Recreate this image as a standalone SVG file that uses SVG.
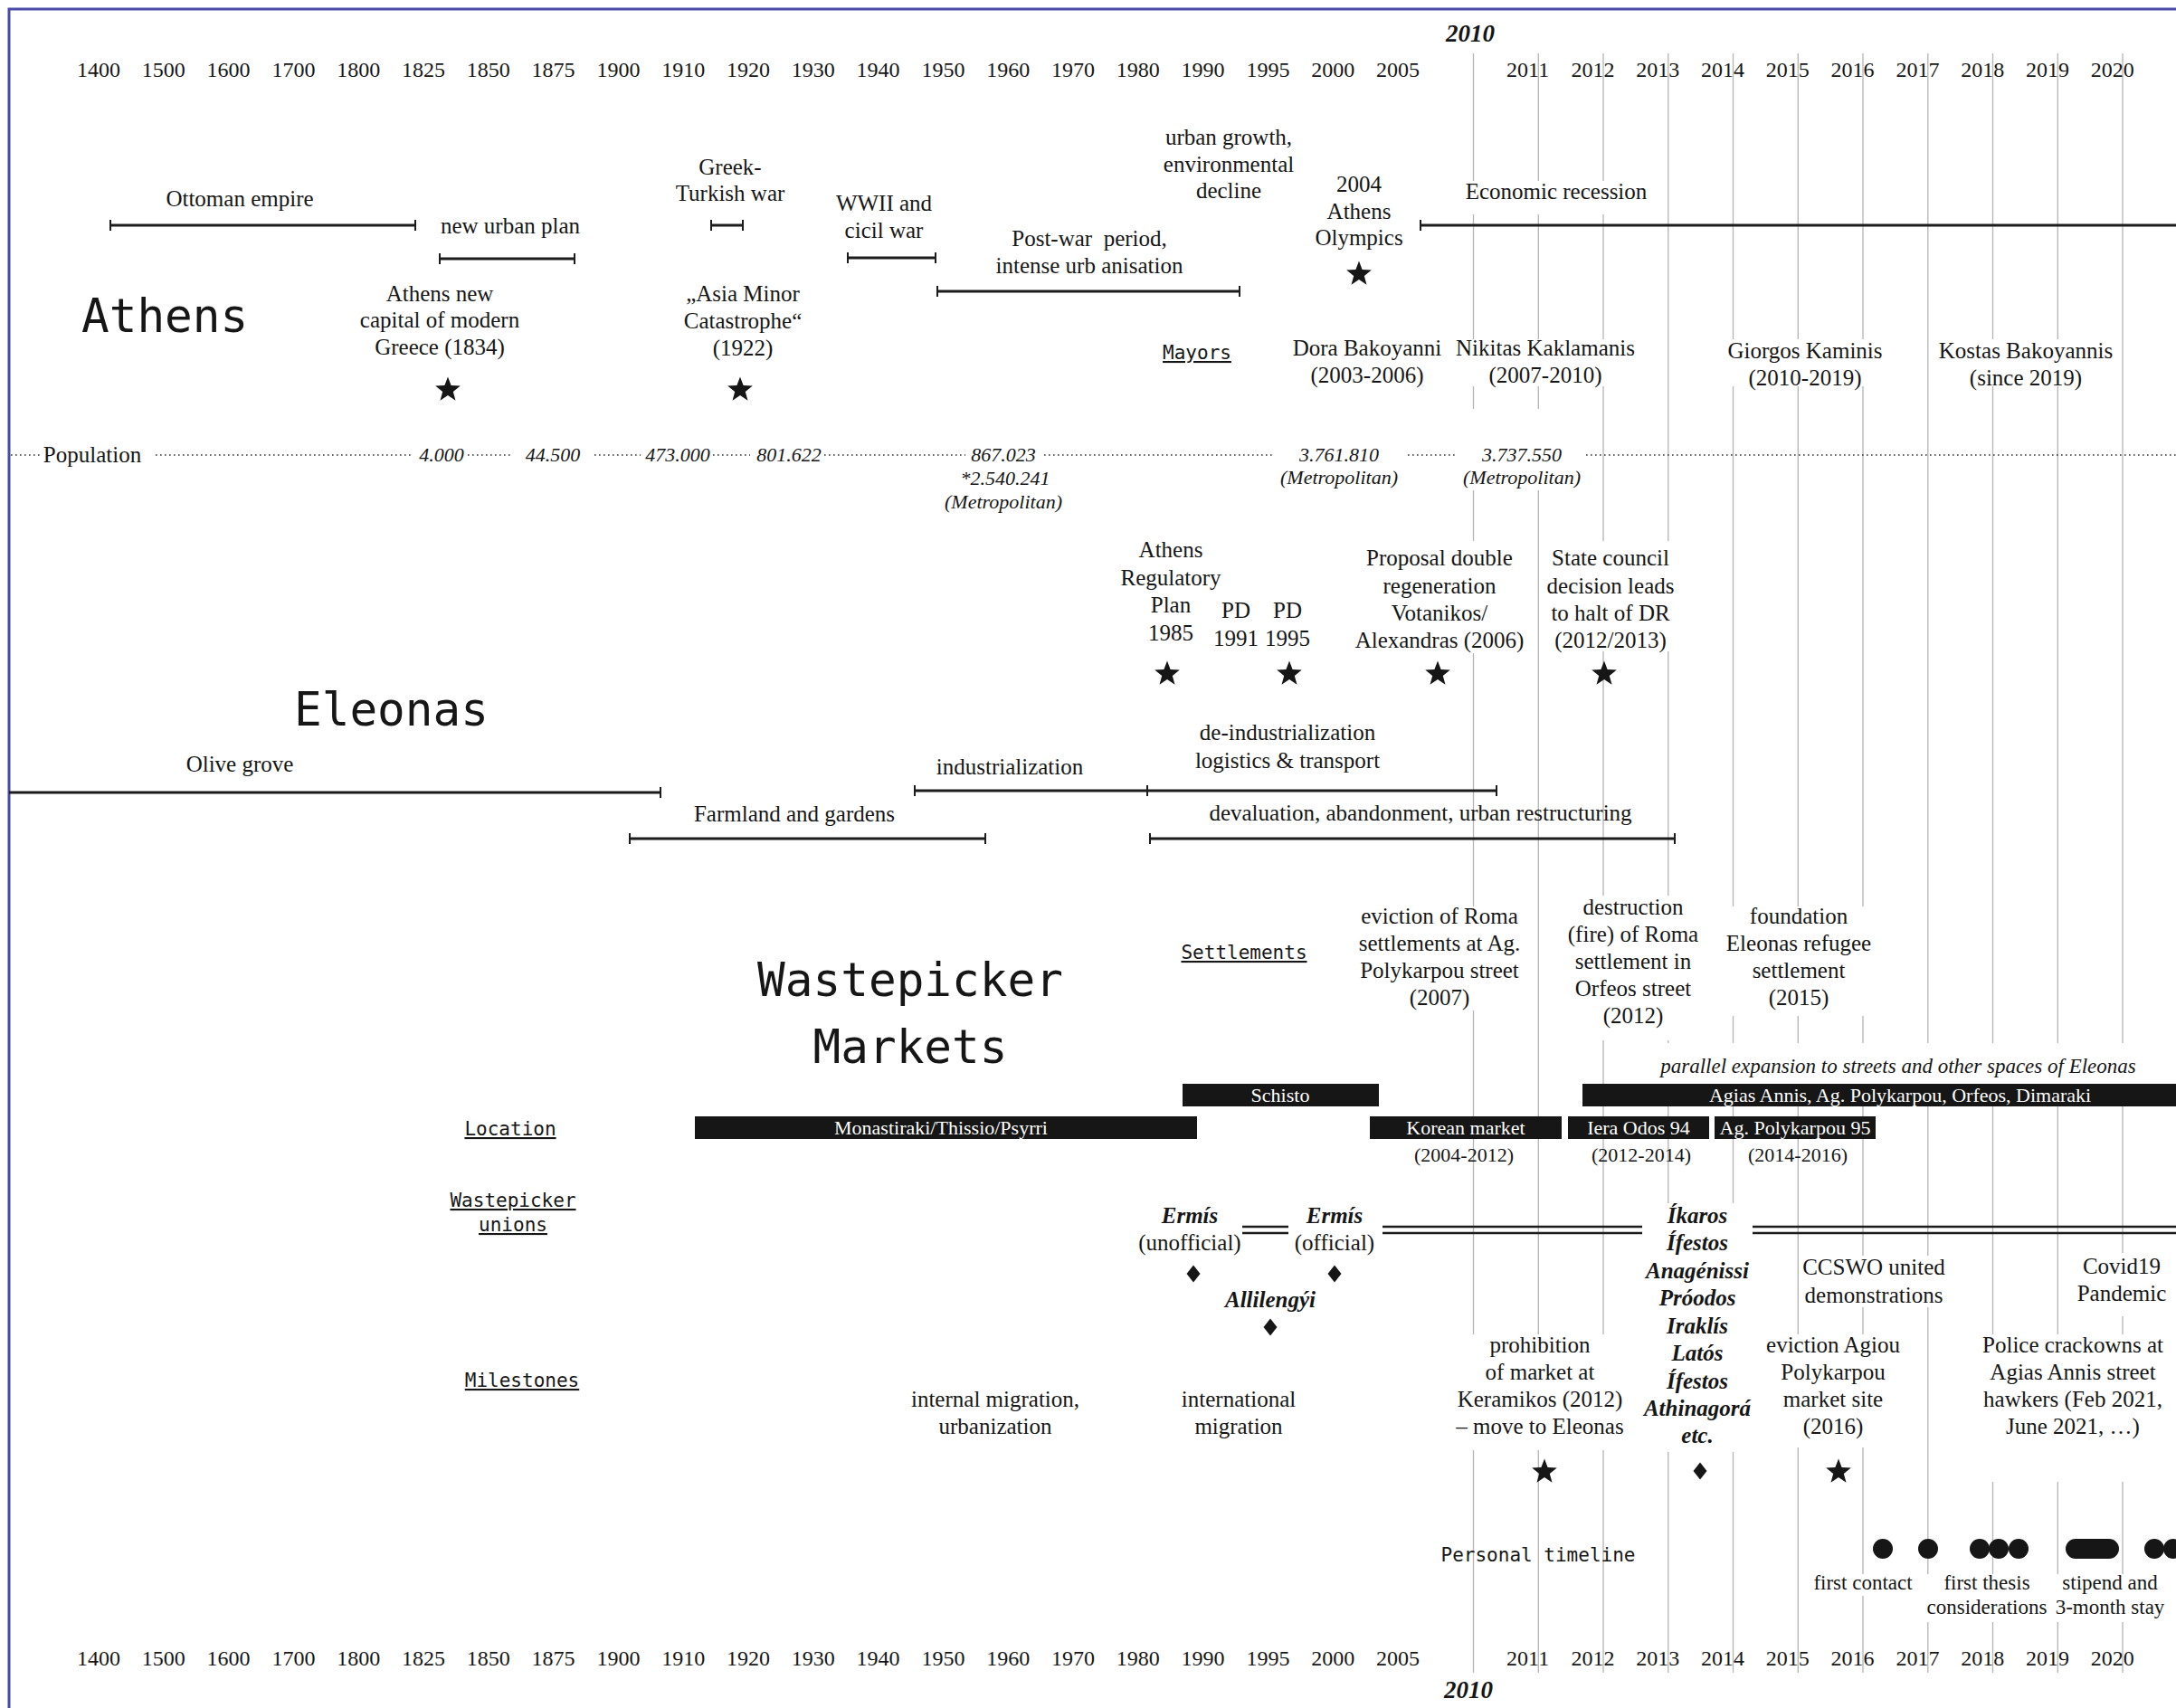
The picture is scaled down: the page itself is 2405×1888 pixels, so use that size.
<svg xmlns="http://www.w3.org/2000/svg" width="2405" height="1888" viewBox="0 0 2405 1888">
<defs>
<style>
text{fill:#161616}
.t{font-family:"Liberation Serif",serif;font-size:25px;text-anchor:middle}
.pt{font-family:"Liberation Serif",serif;font-size:23px;text-anchor:middle}
.yr{font-family:"Liberation Serif",serif;font-size:24px;text-anchor:middle}
.y10{font-family:"Liberation Serif",serif;font-size:27px;font-weight:bold;font-style:italic;text-anchor:middle}
.it{font-family:"Liberation Serif",serif;font-size:22px;font-style:italic;text-anchor:middle}
.it2{font-family:"Liberation Serif",serif;font-size:23px;font-style:italic;text-anchor:middle}
.bi{font-family:"Liberation Serif",serif;font-size:25px;font-weight:bold;font-style:italic;text-anchor:middle}
.sm{font-family:"Liberation Serif",serif;font-size:22px;text-anchor:middle}
.mono{font-family:"DejaVu Sans Mono",monospace;font-size:21px;text-anchor:middle;text-decoration:underline}
.mono2{font-family:"DejaVu Sans Mono",monospace;font-size:21px;text-anchor:middle}
.title{font-family:"DejaVu Sans Mono",monospace;font-size:51px}
.bt{font-family:"Liberation Serif",serif;font-size:22px;text-anchor:middle;fill:#fff}
.grid{stroke:#b4b4b4;stroke-width:1.3;fill:none}
.bar{stroke:#1c1c1c;stroke-width:3;fill:none}
.tick{stroke:#1c1c1c;stroke-width:2;fill:none}
.dot{stroke:#333;stroke-width:1.6;stroke-dasharray:1.6 3.4;fill:none}
.dbl{stroke:#1c1c1c;stroke-width:2.6;fill:none}
.bg{fill:#fff}
.blk{fill:#161616}
</style>
<path id="star" d="M0,-14.5 L3.6,-5 L13.8,-4.5 L5.8,1.9 L8.5,11.7 L0,6.1 L-8.5,11.7 L-5.8,1.9 L-13.8,-4.5 L-3.6,-5 Z" fill="#161616"/>
<path id="dia" d="M0,-9.5 L7.5,0 L0,9.5 L-7.5,0 Z" fill="#161616"/>
</defs>
<rect width="2405" height="1888" fill="#fff"/>

<g id="grid-lines">
<path class="grid" d="M1628.5,59V1849M1700.3,59V1849M1772,59V1849M1843.8,59V1849M1915.5,59V1849M1987.3,59V1849M2059,59V1849M2130.8,59V1849M2202.5,59V1849M2274.3,59V1849M2346,59V1849"/>
</g>
<g id="text-backgrounds">
<rect class="bg" x="1612" y="200" width="212" height="37"/>
<rect class="bg" x="1606" y="375" width="204" height="52"/>
<rect class="bg" x="1906" y="375" width="178" height="52"/>
<rect class="bg" x="2141" y="375" width="198" height="52"/>
<rect class="bg" x="1612" y="452" width="142" height="90"/>
<rect class="bg" x="1498" y="598" width="190" height="124"/>
<rect class="bg" x="1704" y="598" width="150" height="122"/>
<rect class="bg" x="1500" y="1002" width="186" height="115"/>
<rect class="bg" x="1730" y="990" width="152" height="160"/>
<rect class="bg" x="1905" y="1002" width="167" height="121"/>
<rect class="bg" x="1820" y="1153" width="585" height="45"/>
<rect class="bg" x="1815" y="1330" width="122" height="275"/>
<rect class="bg" x="1608" y="1475" width="190" height="128"/>
<rect class="bg" x="1990" y="1388" width="162" height="57"/>
<rect class="bg" x="1950" y="1475" width="156" height="125"/>
<rect class="bg" x="2298" y="1385" width="96" height="70"/>
<rect class="bg" x="2188" y="1475" width="206" height="163"/>
<rect class="bg" x="2003" y="1740" width="112" height="24"/>
<rect class="bg" x="2127" y="1740" width="138" height="53"/>
<rect class="bg" x="2268" y="1740" width="128" height="53"/>
</g>

<g id="frame">
<path d="M10,1888V10H2405" stroke="#4a4aa8" stroke-width="3" fill="none"/>
</g>

<g id="year-axis-top">
<text class="y10" x="1625" y="46">2010</text>
<text class="yr" y="85"><tspan x="109">1400</tspan><tspan x="180.8">1500</tspan><tspan x="252.6">1600</tspan><tspan x="324.4">1700</tspan><tspan x="396.2">1800</tspan><tspan x="468">1825</tspan><tspan x="539.8">1850</tspan><tspan x="611.6">1875</tspan><tspan x="683.4">1900</tspan><tspan x="755.2">1910</tspan><tspan x="827">1920</tspan><tspan x="898.8">1930</tspan><tspan x="970.6">1940</tspan><tspan x="1042.4">1950</tspan><tspan x="1114.2">1960</tspan><tspan x="1186">1970</tspan><tspan x="1257.8">1980</tspan><tspan x="1329.6">1990</tspan><tspan x="1401.4">1995</tspan><tspan x="1473.2">2000</tspan><tspan x="1545">2005</tspan><tspan x="1688.6">2011</tspan><tspan x="1760.4">2012</tspan><tspan x="1832.2">2013</tspan><tspan x="1904">2014</tspan><tspan x="1975.8">2015</tspan><tspan x="2047.6">2016</tspan><tspan x="2119.4">2017</tspan><tspan x="2191.2">2018</tspan><tspan x="2263">2019</tspan><tspan x="2334.8">2020</tspan></text>
</g>
<g id="year-axis-bottom">
<text class="yr" y="1841"><tspan x="109">1400</tspan><tspan x="180.8">1500</tspan><tspan x="252.6">1600</tspan><tspan x="324.4">1700</tspan><tspan x="396.2">1800</tspan><tspan x="468">1825</tspan><tspan x="539.8">1850</tspan><tspan x="611.6">1875</tspan><tspan x="683.4">1900</tspan><tspan x="755.2">1910</tspan><tspan x="827">1920</tspan><tspan x="898.8">1930</tspan><tspan x="970.6">1940</tspan><tspan x="1042.4">1950</tspan><tspan x="1114.2">1960</tspan><tspan x="1186">1970</tspan><tspan x="1257.8">1980</tspan><tspan x="1329.6">1990</tspan><tspan x="1401.4">1995</tspan><tspan x="1473.2">2000</tspan><tspan x="1545">2005</tspan><tspan x="1688.6">2011</tspan><tspan x="1760.4">2012</tspan><tspan x="1832.2">2013</tspan><tspan x="1904">2014</tspan><tspan x="1975.8">2015</tspan><tspan x="2047.6">2016</tspan><tspan x="2119.4">2017</tspan><tspan x="2191.2">2018</tspan><tspan x="2263">2019</tspan><tspan x="2334.8">2020</tspan></text>
<text class="y10" x="1623" y="1877">2010</text>
</g>

<g id="titles">
<text id="title-athens" class="title" x="90" y="367">Athens</text>
<text id="title-eleonas" class="title" x="325" y="802">Eleonas</text>
<text id="title-wastepicker" class="title" text-anchor="middle"><tspan x="1006" y="1101">Wastepicker</tspan><tspan x="1006" y="1175">Markets</tspan></text>
</g>

<g id="row-labels">
<text class="mono" x="1323" y="397">Mayors</text>
<text class="mono" x="1375" y="1060">Settlements</text>
<text class="mono" x="564" y="1255">Location</text>
<text class="mono"><tspan x="567" y="1334">Wastepicker</tspan><tspan x="567" y="1361">unions</tspan></text>
<text class="mono" x="577" y="1533">Milestones</text>
<text class="mono2" x="1700" y="1726">Personal timeline</text>
</g>

<g id="connectors">
<path class="bar" d="M122,249H459M486,286H635M786,249H821M937,285H1034M1036,322H1370M1570,249H2405"/>
<path class="tick" d="M122,243V255M459,243V255M486,280V292M635,280V292M786,243V255M821,243V255M937,279V291M1034,279V291M1036,316V328M1370,316V328M1570,243V255"/>
<path class="bar" d="M10,876H730M1011,874H1654M696,927H1089M1271,927H1851"/>
<path class="tick" d="M730,870V882M1011,868V880M1268,868V880M1654,868V880M696,921V933M1089,921V933M1271,921V933M1851,921V933"/>
<path class="dot" d="M12,503H45M172,503H456M517,503H564M657,503H708M788,503H829M911,503H1067M1154,503H1408M1556,503H1609M1753,503H2405"/>
<path class="dbl" d="M1373,1356H1424M1373,1363H1424M1528,1356H1815M1528,1363H1815M1937,1356H2405M1937,1363H2405"/>
</g>

<g id="athens-events">
<g id="ottoman"><text class="t" x="265" y="228">Ottoman empire</text></g>
<g id="urban-plan"><text class="t" x="564" y="258">new urban plan</text></g>
<g id="greek-turkish"><text class="t"><tspan x="807" y="193">Greek-</tspan><tspan x="807" y="222">Turkish war</tspan></text></g>
<g id="wwii"><text class="t"><tspan x="977" y="233">WWII and</tspan><tspan x="977" y="263">cicil war</tspan></text></g>
<g id="post-war"><text class="t"><tspan x="1204" y="272">Post-war &#160;period,</tspan><tspan x="1204" y="302">intense urb anisation</tspan></text></g>
<g id="urban-growth"><text class="t"><tspan x="1358" y="160">urban growth,</tspan><tspan x="1358" y="190">environmental</tspan><tspan x="1358" y="219">decline</tspan></text></g>
<g id="olympics"><text class="t"><tspan x="1502" y="212">2004</tspan><tspan x="1502" y="242">Athens</tspan><tspan x="1502" y="271">Olympics</tspan></text><use href="#star" x="1502" y="303"/></g>
<g id="recession"><text class="t" x="1720" y="220">Economic recession</text></g>
<g id="capital"><text class="t"><tspan x="486" y="333">Athens new</tspan><tspan x="486" y="362">capital of modern</tspan><tspan x="486" y="392">Greece (1834)</tspan></text><use href="#star" x="495" y="431"/></g>
<g id="asia-minor"><text class="t"><tspan x="821" y="333">„Asia Minor</tspan><tspan x="821" y="363">Catastrophe“</tspan><tspan x="821" y="393">(1922)</tspan></text><use href="#star" x="818" y="431"/></g>
</g>

<g id="mayors">
<g id="mayor-dora"><text class="t"><tspan x="1511" y="393">Dora Bakoyanni</tspan><tspan x="1511" y="423">(2003-2006)</tspan></text></g>
<g id="mayor-nikitas"><text class="t"><tspan x="1708" y="393">Nikitas Kaklamanis</tspan><tspan x="1708" y="423">(2007-2010)</tspan></text></g>
<g id="mayor-giorgos"><text class="t"><tspan x="1995" y="396">Giorgos Kaminis</tspan><tspan x="1995" y="426">(2010-2019)</tspan></text></g>
<g id="mayor-kostas"><text class="t"><tspan x="2239" y="396">Kostas Bakoyannis</tspan><tspan x="2239" y="426">(since 2019)</tspan></text></g>
</g>

<g id="population">
<text class="t" x="102" y="511">Population</text>
<text class="it" x="488" y="510">4.000</text>
<text class="it" x="611" y="510">44.500</text>
<text class="it" x="749" y="510">473.000</text>
<text class="it" x="872" y="510">801.622</text>
<text class="it" x="1109" y="510">867.023</text>
<text class="it"><tspan x="1111" y="536">*2.540.241</tspan><tspan x="1109" y="562">(Metropolitan)</tspan></text>
<text class="it"><tspan x="1480" y="510">3.761.810</tspan><tspan x="1480" y="535">(Metropolitan)</tspan></text>
<text class="it"><tspan x="1682" y="510">3.737.550</tspan><tspan x="1682" y="535">(Metropolitan)</tspan></text>
</g>

<g id="eleonas-events">
<g id="regulatory-plan"><text class="t"><tspan x="1294" y="616">Athens</tspan><tspan x="1294" y="647">Regulatory</tspan><tspan x="1294" y="677">Plan</tspan><tspan x="1294" y="708">1985</tspan></text><use href="#star" x="1290" y="745"/></g>
<g id="pd1991"><text class="t"><tspan x="1366" y="683">PD</tspan><tspan x="1366" y="714">1991</tspan></text></g>
<g id="pd1995"><text class="t"><tspan x="1423" y="683">PD</tspan><tspan x="1423" y="714">1995</tspan></text><use href="#star" x="1425" y="745"/></g>
<g id="double-regeneration"><text class="t"><tspan x="1591" y="625">Proposal double</tspan><tspan x="1591" y="656">regeneration</tspan><tspan x="1591" y="686">Votanikos/</tspan><tspan x="1591" y="716">Alexandras (2006)</tspan></text><use href="#star" x="1589" y="745"/></g>
<g id="state-council"><text class="t"><tspan x="1780" y="625">State council</tspan><tspan x="1780" y="656">decision leads</tspan><tspan x="1780" y="686">to halt of DR</tspan><tspan x="1780" y="716">(2012/2013)</tspan></text><use href="#star" x="1773" y="745"/></g>
<g id="deindustrialization"><text class="t"><tspan x="1423" y="818">de-industrialization</tspan><tspan x="1423" y="849">logistics &amp; transport</tspan></text></g>
<g id="industrialization"><text class="t" x="1116" y="856">industrialization</text></g>
<g id="olive-grove"><text class="t" x="265" y="853">Olive grove</text></g>
<g id="farmland"><text class="t" x="878" y="908">Farmland and gardens</text></g>
<g id="devaluation"><text class="t" x="1570" y="907">devaluation, abandonment, urban restructuring</text></g>
</g>

<g id="settlements">
<g id="roma-eviction"><text class="t"><tspan x="1591" y="1021">eviction of Roma</tspan><tspan x="1591" y="1051">settlements at Ag.</tspan><tspan x="1591" y="1081">Polykarpou street</tspan><tspan x="1591" y="1111">(2007)</tspan></text></g>
<g id="roma-fire"><text class="t"><tspan x="1805" y="1011">destruction</tspan><tspan x="1805" y="1041">(fire) of Roma</tspan><tspan x="1805" y="1071">settlement in</tspan><tspan x="1805" y="1101">Orfeos street</tspan><tspan x="1805" y="1131">(2012)</tspan></text></g>
<g id="refugee-settlement"><text class="t"><tspan x="1988" y="1021">foundation</tspan><tspan x="1988" y="1051">Eleonas refugee</tspan><tspan x="1988" y="1081">settlement</tspan><tspan x="1988" y="1111">(2015)</tspan></text></g>
</g>

<g id="locations">
<text class="it2" x="2098" y="1186">parallel expansion to streets and other spaces of Eleonas</text>
<g id="loc-schisto"><rect class="blk" x="1307" y="1198" width="217" height="25"/><text class="bt" x="1415" y="1218">Schisto</text></g>
<g id="loc-agias"><rect class="blk" x="1749" y="1198" width="656" height="25"/><text class="bt" x="2100" y="1218">Agias Annis, Ag. Polykarpou, Orfeos, Dimaraki</text></g>
<g id="loc-monastiraki"><rect class="blk" x="768" y="1234" width="555" height="25"/><text class="bt" x="1040" y="1254">Monastiraki/Thissio/Psyrri</text></g>
<g id="loc-korean"><rect class="blk" x="1514" y="1234" width="212" height="25"/><text class="bt" x="1620" y="1254">Korean market</text><text class="sm" x="1618" y="1284">(2004-2012)</text></g>
<g id="loc-iera"><rect class="blk" x="1733" y="1234" width="156" height="25"/><text class="bt" x="1811" y="1254">Iera Odos 94</text><text class="sm" x="1814" y="1284">(2012-2014)</text></g>
<g id="loc-polykarpou"><rect class="blk" x="1895" y="1234" width="178" height="25"/><text class="bt" x="1984" y="1254">Ag. Polykarpou 95</text><text class="sm" x="1987" y="1284">(2014-2016)</text></g>
</g>

<g id="unions">
<g id="ermis-unofficial"><text class="t"><tspan class="bi" x="1315" y="1352">Ermís</tspan><tspan x="1315" y="1382">(unofficial)</tspan></text><use href="#dia" x="1319" y="1408"/></g>
<g id="ermis-official"><text class="t"><tspan class="bi" x="1475" y="1352">Ermís</tspan><tspan x="1475" y="1382">(official)</tspan></text><use href="#dia" x="1475" y="1408"/></g>
<g id="allilengyi"><text class="bi" x="1404" y="1445">Allilengýi</text><use href="#dia" x="1404" y="1467"/></g>
<g id="union-list"><text class="bi"><tspan x="1876" y="1352">Íkaros</tspan><tspan x="1876" y="1382">Ífestos</tspan><tspan x="1876" y="1413">Anagénissi</tspan><tspan x="1876" y="1443">Próodos</tspan><tspan x="1876" y="1474">Iraklís</tspan><tspan x="1876" y="1504">Latós</tspan><tspan x="1876" y="1535">Ífestos</tspan><tspan x="1876" y="1565">Athinagorá</tspan><tspan x="1876" y="1595">etc.</tspan></text><use href="#dia" x="1879" y="1626"/></g>
</g>

<g id="milestones">
<g id="internal-migration"><text class="t"><tspan x="1100" y="1555">internal migration,</tspan><tspan x="1100" y="1585">urbanization</tspan></text></g>
<g id="international-migration"><text class="t"><tspan x="1369" y="1555">international</tspan><tspan x="1369" y="1585">migration</tspan></text></g>
<g id="prohibition"><text class="t"><tspan x="1702" y="1495">prohibition</tspan><tspan x="1702" y="1525">of market at</tspan><tspan x="1702" y="1555">Keramikos (2012)</tspan><tspan x="1702" y="1585">– move to Eleonas</tspan></text><use href="#star" x="1707" y="1627"/></g>
<g id="ccswo"><text class="t"><tspan x="2071" y="1409">CCSWO united</tspan><tspan x="2071" y="1440">demonstrations</tspan></text></g>
<g id="eviction-agiou"><text class="t"><tspan x="2026" y="1495">eviction Agiou</tspan><tspan x="2026" y="1525">Polykarpou</tspan><tspan x="2026" y="1555">market site</tspan><tspan x="2026" y="1585">(2016)</tspan></text><use href="#star" x="2032" y="1627"/></g>
<g id="covid"><text class="t"><tspan x="2345" y="1408">Covid19</tspan><tspan x="2345" y="1438">Pandemic</tspan></text></g>
<g id="police"><text class="t"><tspan x="2291" y="1495">Police crackowns at</tspan><tspan x="2291" y="1525">Agias Annis street</tspan><tspan x="2291" y="1555">hawkers (Feb 2021,</tspan><tspan x="2291" y="1585">June 2021, …)</tspan></text></g>
</g>

<g id="personal-timeline">
<circle class="blk" cx="2081" cy="1712" r="11"/>
<circle class="blk" cx="2131" cy="1712" r="11"/>
<circle class="blk" cx="2188" cy="1712" r="11"/>
<circle class="blk" cx="2209" cy="1712" r="11"/>
<circle class="blk" cx="2231" cy="1712" r="11"/>
<rect class="blk" x="2283" y="1701" width="59" height="22" rx="11"/>
<circle class="blk" cx="2381" cy="1712" r="11"/>
<circle class="blk" cx="2402" cy="1712" r="11"/>
<text class="pt" x="2059" y="1757">first contact</text>
<text class="pt"><tspan x="2196" y="1757">first thesis</tspan><tspan x="2196" y="1784">considerations</tspan></text>
<text class="pt"><tspan x="2332" y="1757">stipend and</tspan><tspan x="2332" y="1784">3-month stay</tspan></text>
</g>
</svg>
